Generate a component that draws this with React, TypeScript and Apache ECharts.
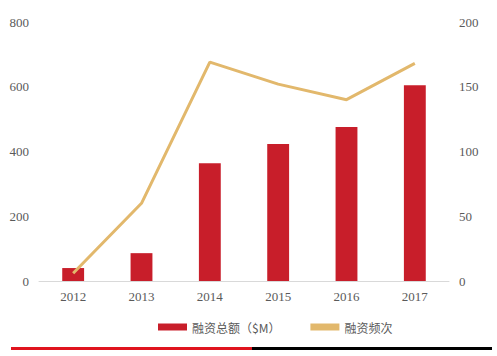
import React, { useEffect, useRef } from "react";
import * as echarts from "echarts";

const years = ["2012", "2013", "2014", "2015", "2016", "2017"];
const amount = [40, 86, 364, 423, 476, 605];
const frequency = [6, 60, 169, 152, 140, 168];
const leftTicks = [0, 200, 400, 600, 800];
const rightTicks = [0, 50, 100, 150, 200];

export default function App() {
  const ref = useRef<HTMLDivElement>(null);
  useEffect(() => {
    const chart = echarts.init(ref.current!, null, { renderer: "svg" });
    const labelStyle = { color: "#5A5A5A", fontSize: 13, fontFamily: "Liberation Serif" };
    chart.setOption({
      animation: false,
      grid: { left: 39, right: 48, top: 22, bottom: 75 },
      legend: {
        bottom: 18,
        left: 153,
        itemGap: 30,
        itemWidth: 29,
        itemHeight: 7,
        textStyle: { color: "#5A5A5A", fontSize: 12, fontFamily: "Noto Sans CJK SC" },
        data: [
          { name: "融资总额（$M）", icon: "rect" },
          { name: "融资频次", icon: "rect", itemStyle: { color: "#E2B86C" } },
        ],
      },
      xAxis: {
        type: "category",
        data: years,
        axisLine: { lineStyle: { color: "#D9D9D9" } },
        axisTick: { show: false },
        axisLabel: { ...labelStyle, margin: 9 },
      },
      yAxis: [
        {
          type: "value",
          min: leftTicks[0],
          max: leftTicks[leftTicks.length - 1],
          interval: 200,
          splitLine: { show: false },
          axisLine: { show: false },
          axisTick: { show: false },
          axisLabel: { ...labelStyle, margin: 10 },
        },
        {
          type: "value",
          min: rightTicks[0],
          max: rightTicks[rightTicks.length - 1],
          interval: 50,
          splitLine: { show: false },
          axisLine: { show: false },
          axisTick: { show: false },
          axisLabel: { ...labelStyle, margin: 10 },
        },
      ],
      series: [
        {
          name: "融资总额（$M）",
          type: "bar",
          data: amount,
          barWidth: "32%",
          itemStyle: { color: "#C81E2A" },
          yAxisIndex: 0,
        },
        {
          name: "融资频次",
          type: "line",
          data: frequency,
          yAxisIndex: 1,
          symbol: "none",
          lineStyle: { color: "#E2B86C", width: 3 },
          itemStyle: { color: "#E2B86C" },
        },
      ],
      graphic: [
        { type: "rect", shape: { x: 11, y: 347, width: 241, height: 3 }, style: { fill: "#E0141E" } },
        { type: "rect", shape: { x: 252, y: 347, width: 240, height: 3 }, style: { fill: "#000000" } },
      ],
    });
    return () => chart.dispose();
  }, []);
  return <div ref={ref} style={{ width: 497, height: 356, position: "absolute", left: 0, top: 0 }} />;
}
